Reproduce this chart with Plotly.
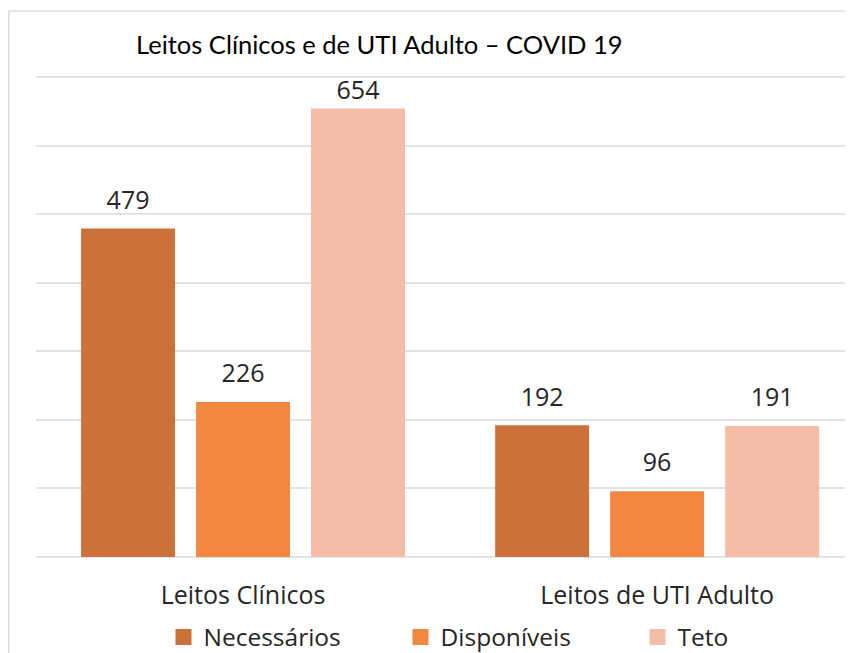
import plotly.graph_objects as go

categories = ["Leitos Clínicos", "Leitos de UTI Adulto"]
series_names = ["Necessários", "Disponíveis", "Teto"]
necessarios = [479, 192]
disponiveis = [226, 96]
teto = [654, 191]
series_values = [necessarios, disponiveis, teto]
colors = ["#cb7139", "#f28742", "#f5bca8"]
title_text = "Leitos Clínicos e de UTI Adulto – COVID 19"
grid_values = [100, 200, 300, 400, 500, 600, 700]

# label offset (invisible marker size); the tallest label sits closer to its bar
label_marker_sizes = [[20, 20], [20, 20], [4, 20]]

# The page body adds an 8px offset, so the figure is laid out 8px smaller.
W, H = 845, 645
PLOT_H = 482

fig = go.Figure()
for name, vals, col in zip(series_names, series_values, colors):
    fig.add_trace(go.Bar(
        x=categories, y=vals, name=name, marker=dict(color=col, line=dict(width=0)),
        offsetgroup=name, showlegend=False, hoverinfo="skip",
    ))
for name, vals, col, ms in zip(series_names, series_values, colors, label_marker_sizes):
    fig.add_trace(go.Scatter(
        x=categories, y=vals, mode="markers+text", text=[str(v) for v in vals],
        textposition="top center", textfont=dict(family="Open Sans", size=25, color="#262626"),
        marker=dict(size=ms, opacity=0, color=col), offsetgroup=name,
        showlegend=False, hoverinfo="skip", cliponaxis=False,
    ))
for name, col in zip(series_names, colors):
    fig.add_trace(go.Scatter(
        x=[None], y=[None], mode="markers", name=name, offsetgroup=name,
        marker=dict(symbol="square", size=16, color=col),
    ))

fig.update_layout(
    width=W, height=H,
    margin=dict(l=28, r=0, t=67, b=96),
    paper_bgcolor="white", plot_bgcolor="white",
    barmode="group", bargap=0.167, bargroupgap=0.183,
    scattermode="group", scattergap=0.167,
    title=dict(text=title_text, font=dict(family="Lato", size=25.5, color="#000000"),
               x=128/W, xanchor="left", xref="container",
               y=1-37/H, yanchor="middle", yref="container"),
    xaxis=dict(range=[-0.5, 1.473], showgrid=False, showline=False, zeroline=False,
               ticks="", ticklabelstandoff=21,
               tickfont=dict(family="Open Sans", size=25, color="#262626")),
    yaxis=dict(range=[0, 703], tickvals=grid_values,
               showticklabels=False, showgrid=True,
               gridcolor="#e0e4e9", gridwidth=1.5, zeroline=True, zerolinecolor="#e0e4e9",
               zerolinewidth=1.5, showline=False),
    legend=dict(orientation="h", x=511/W, xanchor="center", xref="container",
                y=1-629/H, yanchor="middle", yref="container",
                font=dict(family="Open Sans", size=24.5, color="#262626"),
                entrywidth=192, entrywidthmode="pixels", bgcolor="rgba(0,0,0,0)"),
    showlegend=True,
    shapes=[dict(type="rect", xref="paper", yref="paper",
                 x0=(0.75-28)/817, x1=1.1, y0=-0.4, y1=(549-3)/PLOT_H,
                 line=dict(color="#d9dde2", width=1.5), fillcolor="rgba(0,0,0,0)", layer="below")],
)

fig.write_html("out.html")
